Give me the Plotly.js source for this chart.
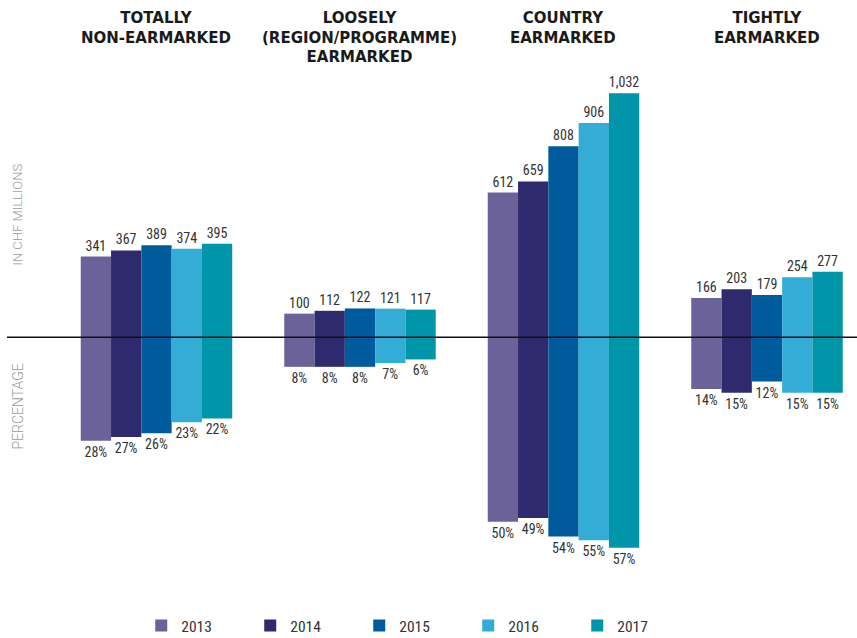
<!DOCTYPE html>
<html>
<head>
<meta charset="utf-8">
<script src="https://cdn.plot.ly/plotly-3.0.1.min.js"></script>
<style>
  html, body { margin: 0; padding: 0; background: #ffffff; }
  #chart { width: 857px; height: 638px; }
</style>
</head>
<body>
<div id="chart"></div>
<script>
// ---- data ----
const categories = [
  "TOTALLY<br>NON-EARMARKED",
  "LOOSELY<br>(REGION/PROGRAMME)<br>EARMARKED",
  "COUNTRY<br>EARMARKED",
  "TIGHTLY<br>EARMARKED"
];
const years = ["2013", "2014", "2015", "2016", "2017"];
// CHF millions, per category, per year
const chf2013 = [341, 100, 612, 166];
const chf2014 = [367, 112, 659, 203];
const chf2015 = [389, 122, 808, 179];
const chf2016 = [374, 121, 906, 254];
const chf2017 = [395, 117, 1032, 277];
// percentage share, per category, per year
const pct2013 = [28, 8, 50, 14];
const pct2014 = [27, 8, 49, 15];
const pct2015 = [26, 8, 54, 12];
const pct2016 = [23, 7, 55, 15];
const pct2017 = [22, 6, 57, 15];
const upperLabel = "IN CHF MILLIONS";
const lowerLabel = "PERCENTAGE";

const chfSeries = [chf2013, chf2014, chf2015, chf2016, chf2017];
const pctSeries = [pct2013, pct2014, pct2015, pct2016, pct2017];
const colors = ["#6a6299", "#2e2a6d", "#005b9d", "#33acd6", "#0095a8"];

const numFont = "Liberation Sans Narrow, Roboto Condensed, Arial Narrow, Roboto, sans-serif";
const idx = categories.map((c, i) => i);

const traces = [];
years.forEach((yr, i) => {
  traces.push({
    type: "bar",
    name: yr,
    legendgroup: yr,
    x: idx,
    y: chfSeries[i],
    marker: { color: colors[i], line: { width: 0 } },
    texttemplate: "%{y:,}",
    textposition: "outside",
    constraintext: "none",
    cliponaxis: false,
    textfont: { family: numFont, size: 14, color: "#333333" },
    hoverinfo: "skip",
    xaxis: "x",
    yaxis: "y"
  });
});
years.forEach((yr, i) => {
  traces.push({
    type: "bar",
    name: yr,
    legendgroup: yr,
    showlegend: false,
    x: idx,
    y: pctSeries[i],
    marker: { color: colors[i], line: { width: 0 } },
    texttemplate: "%{y}%",
    textposition: "outside",
    constraintext: "none",
    cliponaxis: false,
    textfont: { family: numFont, size: 14, color: "#333333" },
    hoverinfo: "skip",
    xaxis: "x",
    yaxis: "y2"
  });
});

const annotations = categories.map((c, i) => ({
  text: c,
  x: i, xref: "x",
  y: 1.141, yref: "paper",
  xanchor: "center", yanchor: "top",
  showarrow: false,
  align: "center",
  font: { family: "DejaVu Sans, sans-serif", size: 15, color: "#1a1a1a", weight: 700 }
}));
annotations.push({
  text: upperLabel, textangle: -90,
  x: 0.0124, xref: "paper", y: 0.7404, yref: "paper",
  xanchor: "center", yanchor: "middle", showarrow: false,
  font: { family: "Roboto, sans-serif", size: 13, color: "#9a9a9a", weight: 300 }
});
annotations.push({
  text: lowerLabel, textangle: -90,
  x: 0.0124, xref: "paper", y: 0.3712, yref: "paper",
  xanchor: "center", yanchor: "middle", showarrow: false,
  font: { family: "Roboto, sans-serif", size: 14, color: "#9a9a9a", weight: 300 }
});

const layout = {
  width: 857, height: 638,
  margin: { l: 7, r: 0, t: 80, b: 38 },
  paper_bgcolor: "#ffffff",
  plot_bgcolor: "#ffffff",
  barmode: "group",
  bargap: 0.2555,
  bargroupgap: 0,
  showlegend: true,
  legend: {
    orientation: "h",
    xref: "container", yref: "container",
    x: 0.1648, xanchor: "left",
    y: 0.0188, yanchor: "middle",
    entrywidth: 64, entrywidthmode: "pixels",
    font: { family: numFont, size: 15.5, color: "#333333" },
    traceorder: "normal",
    itemclick: false, itemdoubleclick: false
  },
  xaxis: {
    type: "linear",
    range: [-0.7346, 3.4423],
    visible: false,
    fixedrange: true
  },
  yaxis: {
    range: [-1110.3, 1087.5],
    visible: false,
    showgrid: false, zeroline: false,
    fixedrange: true
  },
  yaxis2: {
    range: [71.19, -69.73],
    overlaying: "y",
    visible: false,
    showgrid: false, zeroline: false,
    fixedrange: true
  },
  shapes: [{
    type: "line", xref: "paper", x0: 0, x1: 1,
    yref: "y", y0: 0, y1: 0,
    line: { color: "#111111", width: 1.5 },
    layer: "above"
  }],
  annotations: annotations
};

Plotly.newPlot("chart", traces, layout, { displayModeBar: false, staticPlot: true });
</script>
</body>
</html>
